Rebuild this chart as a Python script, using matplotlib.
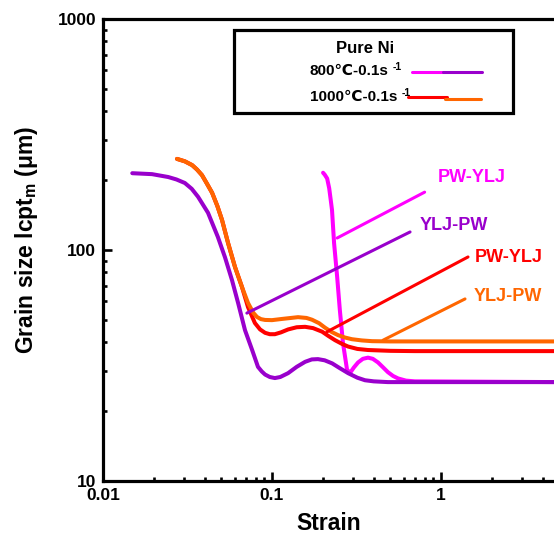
import matplotlib
matplotlib.use("Agg")
import matplotlib.pyplot as plt
from matplotlib.lines import Line2D
from matplotlib.patches import Rectangle
from matplotlib.ticker import FixedLocator, LogLocator, NullFormatter, FixedFormatter

plt.rcParams['font.family'] = ['Liberation Sans', 'DejaVu Sans']
plt.rcParams['font.weight'] = 'bold'
plt.rcParams['mathtext.fontset'] = 'custom'
plt.rcParams['mathtext.rm'] = 'Liberation Sans:bold'
plt.rcParams['mathtext.default'] = 'regular'

# ---------------- data ----------------
# 800C, YLJ-PW (purple)
strain_800_ylj = [0.0149, 0.0195, 0.0243, 0.0272, 0.0305, 0.0335, 0.0365, 0.0418, 0.0478, 0.0527,
                  0.058, 0.063, 0.0692, 0.0762, 0.0826, 0.087, 0.091, 0.097, 0.104, 0.112,
                  0.1245, 0.14, 0.157, 0.172, 0.187, 0.205, 0.227, 0.25, 0.282, 0.32,
                  0.355, 0.40, 0.485, 0.70, 5.0]
grain_800_ylj = [215, 213, 207, 202, 195, 184, 170, 145, 114, 93,
                 74, 59, 45, 37, 31.2, 29.8, 28.9, 28.2, 27.9, 28.2,
                 29.3, 31.2, 32.8, 33.6, 33.7, 33.3, 32.3, 30.9, 29.3, 28.0,
                 27.3, 27.0, 26.8, 26.8, 26.8]
# 800C, PW-YLJ (magenta)
strain_800_pw = [0.2005, 0.205, 0.212, 0.218, 0.2225, 0.2265, 0.233, 0.243, 0.252, 0.263,
                 0.278, 0.29, 0.305, 0.323, 0.345, 0.37, 0.395, 0.424, 0.455, 0.485,
                 0.52, 0.557, 0.62, 0.70, 5.0]
grain_800_pw = [216, 212, 204, 185, 165, 149, 107, 76.4, 55, 39.6,
                30.3, 29.4, 31.0, 32.6, 33.8, 34.2, 33.8, 32.6, 31.0, 29.6,
                28.5, 27.8, 27.2, 27.0, 26.8]
# 1000C, PW-YLJ (red)
strain_1000_pw = [0.0274, 0.0305, 0.0337, 0.036, 0.0385, 0.041, 0.0442, 0.0475, 0.0506, 0.055,
                  0.0604, 0.0664, 0.0721, 0.0792, 0.085, 0.091, 0.097, 0.104, 0.113, 0.1245,
                  0.14, 0.157, 0.175, 0.198, 0.215, 0.236, 0.26, 0.282, 0.32, 0.37,
                  0.5, 0.70, 5.0]
grain_1000_pw = [248, 242, 233, 223, 211, 195, 177, 155, 135, 107,
                 84.4, 69.2, 56.6, 48.3, 45.3, 43.8, 43.2, 43.2, 44.0, 45.3,
                 46.3, 46.5, 45.9, 44.3, 42.5, 40.7, 39.2, 38.2, 37.3, 36.9,
                 36.6, 36.5, 36.5]
# 1000C, YLJ-PW (orange)
strain_1000_ylj = [0.0274, 0.0305, 0.0337, 0.036, 0.0385, 0.041, 0.0442, 0.0475, 0.0506, 0.055,
                   0.0604, 0.0664, 0.0721, 0.0775, 0.0815, 0.086, 0.091, 0.1, 0.1146, 0.1426,
                   0.16, 0.1726, 0.19, 0.206, 0.225, 0.246, 0.27, 0.297, 0.34, 0.391,
                   0.5, 0.70, 5.0]
grain_1000_ylj = [248, 242, 233, 223, 211, 195, 177, 155, 135, 107,
                  84.4, 69.2, 59.0, 53.5, 51.3, 50.2, 49.8, 49.7, 50.3, 51.2,
                  50.8, 49.9, 48.2, 46.1, 44.2, 42.8, 41.8, 41.1, 40.6, 40.3,
                  40.2, 40.2, 40.2]

x_ticks = [0.01, 0.1, 1, 10]
x_tick_labels = ['0.01', '0.1', '1', '']
y_ticks = [10, 100, 1000]
y_tick_labels = ['10', '100', '1000']

# annotations: label, colour, leader start, leader end, text position
ann_labels = ['PW-YLJ', 'YLJ-PW', 'PW-YLJ', 'YLJ-PW']
ann_colors = ['#FF00FF', '#9900CC', '#FF0000', '#FF6600']
ann_start_x = [0.243, 0.071, 0.211, 0.454]
ann_start_y = [112.7, 53.3, 44.2, 40.7]
ann_end_x = [0.80, 0.656, 1.445, 1.387]
ann_end_y = [178, 119.7, 93.3, 61.4]
ann_text_x = [0.96, 0.75, 1.59, 1.55]
ann_text_y = [207, 128, 93, 63]

legend_title = 'Pure Ni'
legend_rows = ['800℃-0.1s', '1000℃-0.1s']

MAGENTA, PURPLE, RED, ORANGE = '#FF00FF', '#9900CC', '#FF0000', '#FF6600'

W, H = 554, 538
fig = plt.figure(figsize=(W / 100, H / 100), dpi=100)


def fx(px):
    return px / W


def fy(py):
    return 1 - py / H


ax = fig.add_axes([fx(103), fy(481), 507 / W, 462 / H])
ax.set_xscale('log')
ax.set_yscale('log')
ax.set_xlim(0.01, 10)
ax.set_ylim(10, 1000)

lw = 2.9
ax.plot(strain_800_pw, grain_800_pw, color=MAGENTA, lw=lw, solid_capstyle='round',
        solid_joinstyle='round', zorder=2)
ax.plot(strain_800_ylj, grain_800_ylj, color=PURPLE, lw=lw, solid_capstyle='round',
        solid_joinstyle='round', zorder=3)
ax.plot(strain_1000_pw, grain_1000_pw, color=RED, lw=lw, solid_capstyle='round',
        solid_joinstyle='round', zorder=4)
ax.plot(strain_1000_ylj, grain_1000_ylj, color=ORANGE, lw=lw, solid_capstyle='round',
        solid_joinstyle='round', zorder=5)

for lab, c, x0, y0, x1, y1, tx, ty in zip(ann_labels, ann_colors, ann_start_x, ann_start_y,
                                          ann_end_x, ann_end_y, ann_text_x, ann_text_y):
    ax.plot([x0, x1], [y0, y1], color=c, lw=2.2, solid_capstyle='round', zorder=6)
    ax.text(tx, ty, lab, color=c, fontsize=13, fontweight='bold', ha='left', va='center', zorder=7)

for side in ['top', 'left', 'bottom', 'right']:
    ax.spines[side].set_linewidth(2.3)

ax.xaxis.set_major_locator(FixedLocator(x_ticks))
ax.xaxis.set_major_formatter(FixedFormatter(x_tick_labels))
ax.yaxis.set_major_locator(FixedLocator(y_ticks))
ax.yaxis.set_major_formatter(FixedFormatter(y_tick_labels))
ax.xaxis.set_minor_locator(LogLocator(base=10, subs=range(2, 10)))
ax.yaxis.set_minor_locator(LogLocator(base=10, subs=range(2, 10)))
ax.xaxis.set_minor_formatter(NullFormatter())
ax.yaxis.set_minor_formatter(NullFormatter())
ax.tick_params(which='major', direction='in', length=6.5, width=1.9, labelsize=12.5, pad=5,
               top=False, right=False)
ax.tick_params(which='minor', direction='in', length=3, width=1.9, top=False, right=False)
for t in ax.get_xticklabels() + ax.get_yticklabels():
    t.set_fontweight('bold')

fig.text(fx(329), fy(523), 'Strain', fontsize=16.5, fontweight='bold', ha='center', va='center')
fig.text(fx(27), fy(240), r'Grain size lcpt$_{\mathregular{m}}$ (μm)', fontsize=16.5,
         fontweight='bold', ha='center', va='center', rotation=90)

# legend box
fig.patches.append(Rectangle((fx(234), fy(113)), fx(513) - fx(234), fy(30) - fy(113),
                             transform=fig.transFigure, fill=False, lw=2.3, edgecolor='black',
                             zorder=10))
fig.text(fx(365), fy(48.5), legend_title, fontsize=12, fontweight='bold', ha='center', va='center')
row_y = [71, 97]
row_texts = []
for lab, yy in zip(legend_rows, row_y):
    row_texts.append(fig.text(fx(310), fy(yy), lab, fontsize=11, fontweight='bold',
                              ha='left', va='center'))
fig.canvas.draw()
renderer = fig.canvas.get_renderer()
for t, yy in zip(row_texts, row_y):
    bb = t.get_window_extent(renderer)
    fig.text(bb.x1 / W + fx(4), fy(yy - 4), '-1', fontsize=7.5, fontweight='bold',
             ha='left', va='center')

fig.lines.append(Line2D([fx(412), fx(443)], [fy(72.3), fy(72.3)], color=MAGENTA, lw=2.2,
                        transform=fig.transFigure, solid_capstyle='round'))
fig.lines.append(Line2D([fx(443), fx(482)], [fy(72.3), fy(72.3)], color=PURPLE, lw=2.2,
                        transform=fig.transFigure, solid_capstyle='round'))
fig.lines.append(Line2D([fx(408), fx(447)], [fy(97), fy(97)], color=RED, lw=2.2,
                        transform=fig.transFigure, solid_capstyle='round'))
fig.lines.append(Line2D([fx(445), fx(481)], [fy(98.7), fy(98.7)], color=ORANGE, lw=2.2,
                        transform=fig.transFigure, solid_capstyle='round'))

fig.savefig('out.png', dpi=100)
